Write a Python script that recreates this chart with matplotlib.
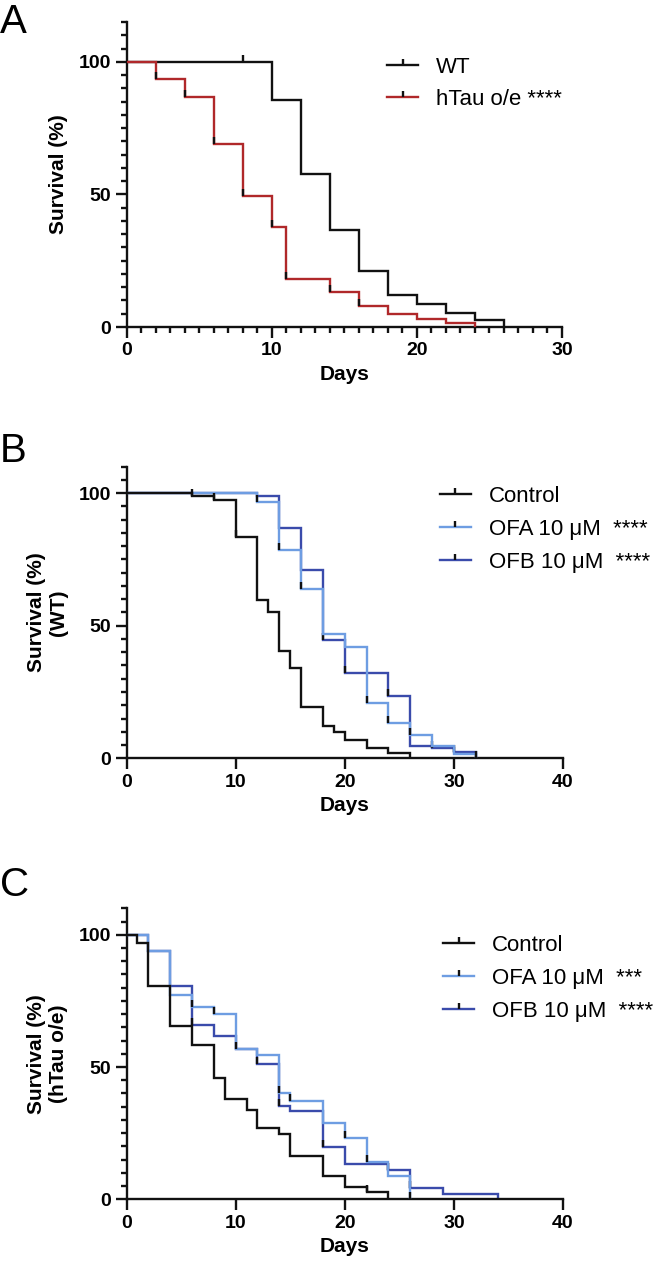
import numpy as np
import matplotlib
matplotlib.use("Agg")
import matplotlib.pyplot as plt
from matplotlib.lines import Line2D
from matplotlib.ticker import MultipleLocator

plt.rcParams['font.family'] = ['Liberation Sans', 'DejaVu Sans']

# ---------------- data ----------------
# Panel A
a_wt_t = [0, 10, 12, 14, 16, 18, 20, 22, 24, 26]
a_wt_s = [100, 85.7, 57.7, 36.4, 21.1, 12.2, 8.6, 5.2, 2.6, 0]
a_wt_cens = [8]
a_tau_t = [0, 2, 4, 6, 8, 10, 11, 14, 16, 18, 20, 22, 24]
a_tau_s = [100, 93.5, 86.9, 68.9, 49.4, 37.8, 18.1, 13.1, 8.0, 5.0, 3.2, 1.6, 0]
a_tau_cens = [2, 4, 6, 8, 10, 11, 14, 16]

# Panel B (WT)
b_ctl_t = [0, 6, 8, 10, 12, 13, 14, 15, 16, 18, 19, 20, 22, 24, 26]
b_ctl_s = [100, 98.9, 97.2, 83.6, 59.5, 55.0, 40.3, 34.2, 19.5, 12.2, 10.0, 6.9, 3.8, 1.9, 0]
b_ctl_cens = [6, 8, 10]
b_ofa_t = [0, 12, 14, 16, 18, 20, 22, 24, 26, 28, 30, 32]
b_ofa_s = [100, 96.5, 78.4, 63.8, 46.8, 41.9, 21.0, 13.2, 8.8, 4.5, 1.6, 0]
b_ofa_cens = [12, 14, 16, 22, 24, 26, 32]
b_ofb_t = [0, 12, 14, 16, 18, 20, 24, 26, 28, 30, 32]
b_ofb_s = [100, 98.7, 86.8, 71.1, 44.7, 32.1, 23.5, 4.6, 3.8, 2.4, 0]
b_ofb_cens = [18, 20, 24, 28, 30]

# Panel C (hTau o/e)
c_ctl_t = [0, 1, 2, 4, 6, 8, 9, 11, 12, 14, 15, 18, 20, 22, 24]
c_ctl_s = [100, 97.0, 80.6, 65.4, 58.5, 46.0, 37.9, 33.7, 26.8, 24.5, 16.4, 8.8, 4.8, 2.9, 0]
c_ctl_cens = [22]
c_ofa_t = [0, 2, 4, 6, 8, 10, 12, 14, 15, 18, 20, 22, 24, 26]
c_ofa_s = [100, 93.7, 77.4, 72.7, 70.2, 57.0, 54.5, 40.3, 37.2, 28.7, 23.3, 14.2, 8.8, 0]
c_ofa_cens = [6, 8, 10, 14, 15, 20, 22, 26]
c_ofb_t = [0, 2, 4, 6, 8, 10, 12, 14, 15, 18, 20, 24, 26, 29, 34]
c_ofb_s = [100, 93.7, 80.8, 65.8, 61.6, 57.0, 51.3, 35.2, 33.5, 19.9, 13.3, 11.1, 4.2, 2.0, 0]
c_ofb_cens = [6, 12, 14, 18, 24, 26]

# legend labels
a_labels = ['WT', 'hTau o/e ****']
b_labels = ['Control', 'OFA 10 μM  ****', 'OFB 10 μM  ****']
c_labels = ['Control', 'OFA 10 μM  ***', 'OFB 10 μM  ****']

# ---------------- style ----------------
BLACK = '#111111'
RED = '#b0282a'
LBLUE = '#6e9de2'
DBLUE = '#3a4bab'
LW = 1.7
TICK_FS = 14
LABEL_FS = 15
LEG_FS = 16

W, H = 668, 1279
fig = plt.figure(figsize=(W / 100, H / 100), dpi=100)


def px_axes(left, right, top, bottom):
    return fig.add_axes([left / W, 1 - bottom / H, (right - left) / W, (bottom - top) / H])


def surv_at(t, s, x):
    i = np.searchsorted(np.asarray(t), x, side='right') - 1
    return np.asarray(s)[i]


def km(ax, t, s, color, cens, z):
    ax.step(t, s, where='post', color=color, lw=LW, zorder=z, solid_joinstyle='miter')
    cy = [surv_at(t, s, c) for c in cens]
    ax.plot(cens, cy, ls='none', marker=2, ms=5, mew=1.7, color=BLACK, zorder=z + 0.5)


def style(ax, xmax, ymax, xminor):
    ax.set_xlim(0, xmax)
    ax.set_ylim(0, ymax)
    for sp in ['top', 'right']:
        ax.spines[sp].set_visible(False)
    for sp in ['left', 'bottom']:
        ax.spines[sp].set_linewidth(1.7)
        ax.spines[sp].set_color(BLACK)
    ax.xaxis.set_major_locator(MultipleLocator(10))
    ax.yaxis.set_major_locator(MultipleLocator(50))
    ax.yaxis.set_minor_locator(MultipleLocator(5))
    if xminor:
        ax.xaxis.set_minor_locator(MultipleLocator(1))
    ax.tick_params(which='major', length=8, width=1.7, direction='out', color=BLACK,
                   labelsize=TICK_FS, pad=3)
    ax.tick_params(which='minor', length=4.5, width=1.7, direction='out', color=BLACK)
    for lab in ax.get_xticklabels() + ax.get_yticklabels():
        lab.set_fontweight('bold')
    ax.set_xlabel('Days', fontsize=LABEL_FS, fontweight='bold', labelpad=4)
    ax.patch.set_alpha(0)


def legend(colors, labels, x0, rows):
    for c, lab, y in zip(colors, labels, rows):
        yf = 1 - y / H
        fig.add_artist(Line2D([x0 / W, (x0 + 31) / W], [yf, yf], color=c, lw=LW,
                              transform=fig.transFigure))
        fig.add_artist(Line2D([(x0 + 15.5) / W], [yf], color=BLACK, ls='none', marker=2,
                              ms=4, mew=1.7, transform=fig.transFigure))
        fig.text((x0 + 49) / W, yf, lab, fontsize=LEG_FS, ha='left', va='center_baseline')


# Panel A
axA = px_axes(126.5, 562, 22, 327)
km(axA, a_wt_t, a_wt_s, BLACK, a_wt_cens, 3)
km(axA, a_tau_t, a_tau_s, RED, a_tau_cens, 4)
style(axA, 30, 115, True)
axA.set_ylabel('Survival (%)', fontsize=LABEL_FS, fontweight='bold', labelpad=8)
legend([BLACK, RED], a_labels, 387, [65, 97])

# Panel B
axB = px_axes(126.5, 563, 466.5, 758.3)
km(axB, b_ofb_t, b_ofb_s, DBLUE, b_ofb_cens, 2)
km(axB, b_ofa_t, b_ofa_s, LBLUE, b_ofa_cens, 3)
km(axB, b_ctl_t, b_ctl_s, BLACK, b_ctl_cens, 4)
style(axB, 40, 110, False)
axB.set_ylabel('Survival (%)\n(WT)', fontsize=LABEL_FS, fontweight='bold', labelpad=8)
legend([BLACK, LBLUE, DBLUE], b_labels, 440, [494, 527, 560])

# Panel C
axC = px_axes(126.5, 563, 908.3, 1199.3)
km(axC, c_ofb_t, c_ofb_s, DBLUE, c_ofb_cens, 2)
km(axC, c_ofa_t, c_ofa_s, LBLUE, c_ofa_cens, 3)
km(axC, c_ctl_t, c_ctl_s, BLACK, c_ctl_cens, 4)
style(axC, 40, 110, False)
axC.set_ylabel('Survival (%)\n(hTau o/e)', fontsize=LABEL_FS, fontweight='bold', labelpad=8)
legend([BLACK, LBLUE, DBLUE], c_labels, 443, [943, 976, 1009])

# Panel letters
for letter, ypx in [('A', 3), ('B', 432), ('C', 866)]:
    fig.text(0 / W, 1 - ypx / H, letter, fontsize=29, ha='left', va='top')

fig.savefig('out.png', dpi=100)
